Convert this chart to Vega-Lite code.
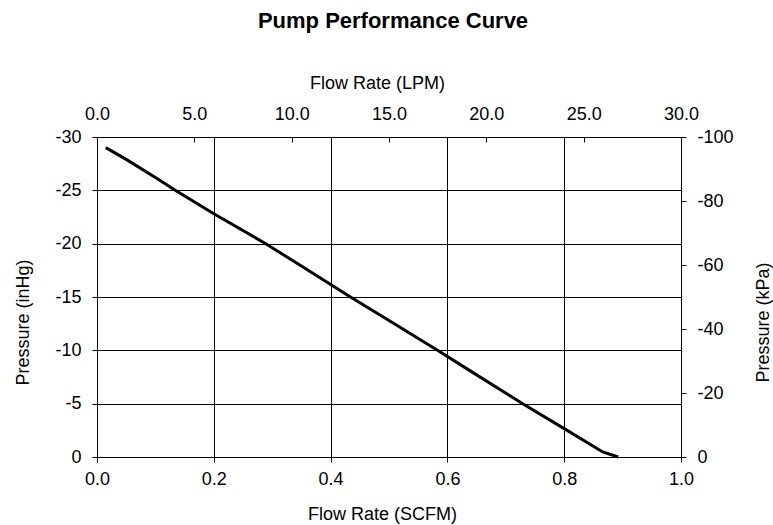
{
  "$schema": "https://vega.github.io/schema/vega-lite/v6.json",
  "width": 584,
  "height": 320,
  "autosize": "none",
  "padding": {"left": 97, "top": 137, "right": 92, "bottom": 68},
  "background": "white",
  "title": {
    "text": "Pump Performance Curve",
    "font": "Liberation Sans",
    "fontSize": 22,
    "fontWeight": "bold",
    "color": "black",
    "anchor": "middle",
    "dx": 4,
    "offset": 41
  },
  "config": {
    "view": {"stroke": "black", "strokeWidth": 1},
    "axis": {
      "labelFont": "Liberation Sans",
      "titleFont": "Liberation Sans",
      "labelFontSize": 18,
      "titleFontSize": 18,
      "titleFontWeight": "normal",
      "labelColor": "black",
      "titleColor": "black",
      "domainColor": "black",
      "tickColor": "black",
      "gridColor": "black",
      "gridOpacity": 1,
      "gridWidth": 1,
      "domainWidth": 1,
      "tickWidth": 1,
      "labelFlush": false,
      "labelOverlap": false
    }
  },
  "data": {
    "values": [
      {"scfm": 0.015, "inhg": -29.0, "lpm": 0.42, "kpa": -98.2},
      {"scfm": 0.05, "inhg": -27.9, "lpm": 1.42, "kpa": -94.5},
      {"scfm": 0.10, "inhg": -26.2, "lpm": 2.83, "kpa": -88.7},
      {"scfm": 0.134, "inhg": -25.0, "lpm": 3.79, "kpa": -84.7},
      {"scfm": 0.20, "inhg": -22.8, "lpm": 5.66, "kpa": -77.2},
      {"scfm": 0.289, "inhg": -20.0, "lpm": 8.18, "kpa": -67.7},
      {"scfm": 0.35, "inhg": -17.9, "lpm": 9.91, "kpa": -60.6},
      {"scfm": 0.434, "inhg": -15.0, "lpm": 12.29, "kpa": -50.8},
      {"scfm": 0.50, "inhg": -12.8, "lpm": 14.16, "kpa": -43.3},
      {"scfm": 0.583, "inhg": -10.0, "lpm": 16.51, "kpa": -33.9},
      {"scfm": 0.65, "inhg": -7.7, "lpm": 18.41, "kpa": -26.1},
      {"scfm": 0.729, "inhg": -5.0, "lpm": 20.64, "kpa": -16.9},
      {"scfm": 0.80, "inhg": -2.66, "lpm": 22.65, "kpa": -9.0},
      {"scfm": 0.866, "inhg": -0.47, "lpm": 24.52, "kpa": -1.6},
      {"scfm": 0.8925, "inhg": 0, "lpm": 25.27, "kpa": 0}
    ]
  },
  "layer": [
    {
      "mark": {"type": "line", "color": "black", "strokeWidth": 3, "interpolate": "linear"},
      "encoding": {
        "x": {
          "field": "scfm", "type": "quantitative",
          "scale": {"domain": [0, 1], "nice": false, "zero": false},
          "axis": {
            "orient": "bottom", "title": "Flow Rate (SCFM)",
            "values": [0, 0.2, 0.4, 0.6, 0.8, 1.0], "format": ".1f",
            "grid": true, "tickSize": 5, "labelPadding": 8, "titlePadding": 17, "titleX": 285
          }
        },
        "y": {
          "field": "inhg", "type": "quantitative",
          "scale": {"domain": [0, -30], "nice": false, "zero": false},
          "axis": {
            "orient": "left", "title": "Pressure (inHg)",
            "values": [0, -5, -10, -15, -20, -25, -30],
            "labelExpr": "toString(datum.value)",
            "grid": true, "tickSize": 5, "labelPadding": 11, "titlePadding": 22, "titleY": 185
          }
        },
        "order": {"field": "scfm", "type": "quantitative"}
      }
    },
    {
      "mark": {"type": "line", "strokeOpacity": 0},
      "encoding": {
        "x": {
          "field": "lpm", "type": "quantitative",
          "scale": {"domain": [0, 30], "nice": false, "zero": false},
          "axis": {
            "orient": "top", "title": "Flow Rate (LPM)",
            "values": [0, 5, 10, 15, 20, 25, 30], "format": ".1f",
            "grid": false, "tickSize": -5, "labelPadding": 19, "titlePadding": 13, "titleX": 280
          }
        },
        "y": {
          "field": "kpa", "type": "quantitative",
          "scale": {"domain": [0, -100], "nice": false, "zero": false},
          "axis": {
            "orient": "right", "title": "Pressure (kPa)",
            "values": [0, -20, -40, -60, -80, -100],
            "labelExpr": "toString(datum.value)",
            "grid": false, "tickSize": 5, "labelPadding": 11, "titleAngle": 270, "titlePadding": 39, "titleY": 185
          }
        },
        "order": {"field": "lpm", "type": "quantitative"}
      }
    }
  ],
  "resolve": {"scale": {"x": "independent", "y": "independent"}}
}
